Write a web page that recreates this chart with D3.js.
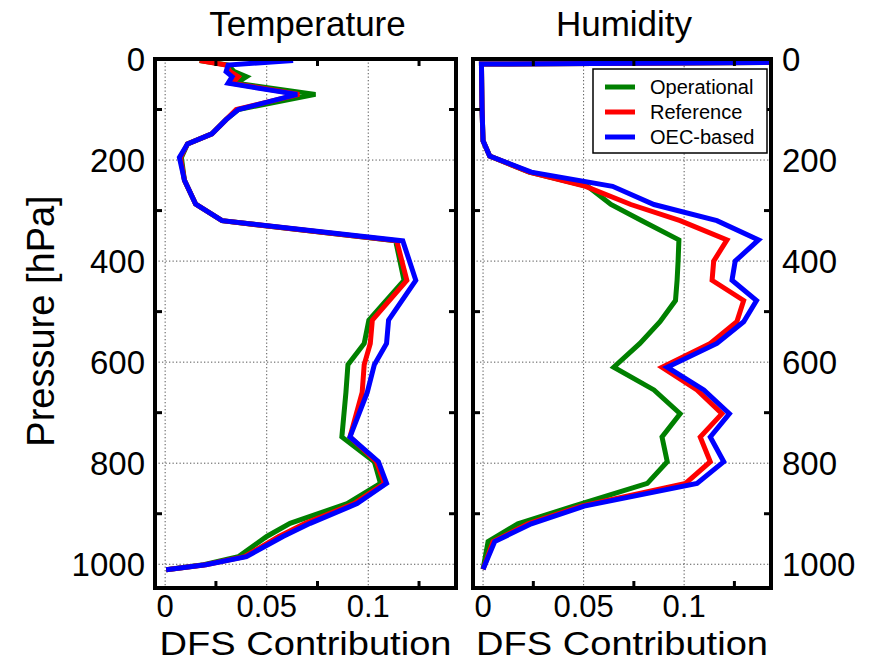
<!DOCTYPE html>
<html><head><meta charset="utf-8">
<script src="https://cdn.jsdelivr.net/npm/d3@7"></script>
<style>body{margin:0;background:#fff}text{font-family:"Liberation Sans",Arial,sans-serif}</style>
</head><body><svg id="c" width="873" height="663"></svg>
<script>
// ---------- data ----------
const seriesNames = ["Operational", "Reference", "OEC-based"];
const seriesColors = ["#008000", "#ff0000", "#0000ff"];

// Temperature panel
const tempLevels = [3, 12, 25, 35, 48, 70, 100, 120, 148, 168, 195, 240, 287, 320, 360, 438, 517, 563, 605, 660, 748, 797, 840, 880, 919, 945, 985, 1001, 1011];
const tempOperational = [0.017, 0.031, 0.034, 0.040, 0.035, 0.074, 0.036, 0.030, 0.023, 0.011, 0.008, 0.0095, 0.015, 0.028, 0.1135, 0.1176, 0.1003, 0.098, 0.090, 0.089, 0.087, 0.103, 0.106, 0.0896, 0.0615, 0.050, 0.036, 0.019, 0.0005];
const tempReference   = [0.017, 0.030, 0.032, 0.036, 0.033, 0.066, 0.035, 0.030, 0.023, 0.011, 0.0075, 0.0095, 0.015, 0.028, 0.114, 0.119, 0.102, 0.101, 0.098, 0.097, 0.091, 0.104, 0.108, 0.093, 0.069, 0.056, 0.039, 0.020, 0.0005];
const tempOEC         = [0.063, 0.031, 0.030, 0.033, 0.031, 0.065, 0.036, 0.030, 0.023, 0.011, 0.007, 0.0095, 0.015, 0.028, 0.117, 0.1234, 0.110, 0.109, 0.103, 0.0995, 0.091, 0.105, 0.109, 0.0945, 0.0714, 0.058, 0.040, 0.020, 0.0005];

// Humidity panel
const humLevels = [3, 10, 100, 162, 192, 224, 252, 288, 320, 358, 400, 438, 478, 520, 563, 610, 655, 702, 748, 797, 840, 885, 920, 955, 1010];
const humOperational = [0.3, -0.0008, -0.0005, 0.0, 0.0033, 0.023, 0.052, 0.0636, 0.079, 0.0974, 0.097, 0.0965, 0.0957, 0.088, 0.078, 0.065, 0.085, 0.098, 0.089, 0.0916, 0.0817, 0.045, 0.0173, 0.0025, 0.0];
const humReference   = [0.3, -0.0008, -0.0005, 0.0, 0.0033, 0.023, 0.051, 0.0735, 0.098, 0.1213, 0.1147, 0.1139, 0.1296, 0.1262, 0.113, 0.089, 0.1064, 0.1188, 0.108, 0.113, 0.1007, 0.0487, 0.0223, 0.005, 0.0];
const humOEC         = [0.3, -0.0008, -0.0005, 0.0, 0.0033, 0.024, 0.0644, 0.085, 0.1163, 0.137, 0.1254, 0.1238, 0.136, 0.1296, 0.1163, 0.0916, 0.1098, 0.1225, 0.113, 0.1197, 0.1064, 0.0503, 0.024, 0.0058, 0.0];

const xTickValues = [0, 0.05, 0.1];
const xTickLabels = ["0", "0.05", "0.1"];
const xMinorTicks = [0.025, 0.075, 0.125];
const yTickValues = [0, 200, 400, 600, 800, 1000];
const yMinorTicks = [100, 300, 500, 700, 900];
const panelTitles = ["Temperature", "Humidity"];
const xLabel = "DFS Contribution";
const yLabel = "Pressure [hPa]";

// ---------- drawing ----------
const svg = d3.select("#c");
const yTop = 59, yBot = 588;
const y = d3.scaleLinear().domain([0, 1047]).range([yTop, yBot]);
const panels = [
  {x0: 155, x1: 456, levels: tempLevels, series: [tempOperational, tempReference, tempOEC], title: panelTitles[0], yAxis: "left"},
  {x0: 473, x1: 771, levels: humLevels, series: [humOperational, humReference, humOEC], title: panelTitles[1], yAxis: "right", legend: true}
];

panels.forEach((P, i) => {
  const x = d3.scaleLinear().domain([-0.005, 0.1432]).range([P.x0, P.x1]);
  const g = svg.append("g");
  const clipId = "clip" + i;
  svg.append("clipPath").attr("id", clipId).append("rect")
    .attr("x", P.x0).attr("y", yTop).attr("width", P.x1 - P.x0).attr("height", yBot - yTop);

  // grid
  const grid = g.append("g").attr("stroke", "#555").attr("stroke-width", 1).attr("stroke-dasharray", "1.3,2.2");
  grid.selectAll("line.gx").data(xTickValues).join("line")
    .attr("x1", d => x(d)).attr("x2", d => x(d)).attr("y1", yTop).attr("y2", yBot);
  grid.selectAll("line.gy").data(yTickValues.filter(d => d > 0)).join("line")
    .attr("y1", d => y(d)).attr("y2", d => y(d)).attr("x1", P.x0).attr("x2", P.x1);

  // lines
  const lineGen = d3.line().x(d => x(d[1])).y(d => y(d[0]));
  const lg = g.append("g").attr("clip-path", `url(#${clipId})`);
  P.series.forEach((vals, k) => {
    lg.append("path").datum(P.levels.map((p, j) => [p, vals[j]]))
      .attr("d", lineGen).attr("fill", "none").attr("stroke", seriesColors[k])
      .attr("stroke-width", 5).attr("stroke-linejoin", "miter");
  });

  // minor ticks (inward, all sides)
  const tk = g.append("g").attr("stroke", "#000").attr("stroke-width", 3);
  xMinorTicks.forEach(v => {
    tk.append("line").attr("x1", x(v)).attr("x2", x(v)).attr("y1", yTop).attr("y2", yTop + 7);
    tk.append("line").attr("x1", x(v)).attr("x2", x(v)).attr("y1", yBot).attr("y2", yBot - 7);
  });
  yMinorTicks.forEach(v => {
    tk.append("line").attr("y1", y(v)).attr("y2", y(v)).attr("x1", P.x0).attr("x2", P.x0 + 7);
    tk.append("line").attr("y1", y(v)).attr("y2", y(v)).attr("x1", P.x1).attr("x2", P.x1 - 7);
  });

  // frame
  g.append("rect").attr("x", P.x0).attr("y", yTop).attr("width", P.x1 - P.x0).attr("height", yBot - yTop)
    .attr("fill", "none").attr("stroke", "#000").attr("stroke-width", 4);

  // x tick labels
  g.selectAll("text.xt").data(xTickValues).join("text")
    .attr("x", d => x(d)).attr("y", 617).attr("text-anchor", "middle")
    .attr("font-size", 31).text((d, j) => xTickLabels[j]);
  // x label
  g.append("text").attr("x", (P.x0 + P.x1) / 2).attr("y", 655).attr("text-anchor", "middle")
    .attr("font-size", 33).attr("textLength", 292).attr("lengthAdjust", "spacingAndGlyphs").text(xLabel);
  // title
  g.append("text").attr("x", (P.x0 + P.x1) / 2 + 2).attr("y", 36).attr("text-anchor", "middle")
    .attr("font-size", 35).text(P.title);

  // y tick labels
  g.selectAll("text.yt").data(yTickValues).join("text")
    .attr("x", P.yAxis === "left" ? P.x0 - 10 : P.x1 + 11)
    .attr("y", d => y(d) + 12)
    .attr("text-anchor", P.yAxis === "left" ? "end" : "start")
    .attr("font-size", 33).text(d => d);

  // legend
  if (P.legend) {
    const lx = 593, ly = 69, lw = 174, lh = 84;
    const L = g.append("g");
    L.append("rect").attr("x", lx).attr("y", ly).attr("width", lw).attr("height", lh)
      .attr("fill", "#fff").attr("stroke", "#000").attr("stroke-width", 1.5);
    seriesNames.forEach((n, k) => {
      const yy = ly + 18 + k * 25;
      L.append("line").attr("x1", lx + 12).attr("x2", lx + 42).attr("y1", yy).attr("y2", yy)
        .attr("stroke", seriesColors[k]).attr("stroke-width", 5);
      L.append("text").attr("x", lx + 57).attr("y", yy + 7).attr("font-size", 20).text(n);
    });
  }
});

// y label
svg.append("text").attr("transform", "translate(54,321) rotate(-90)")
  .attr("text-anchor", "middle").attr("font-size", 38).text(yLabel);
</script></body></html>
